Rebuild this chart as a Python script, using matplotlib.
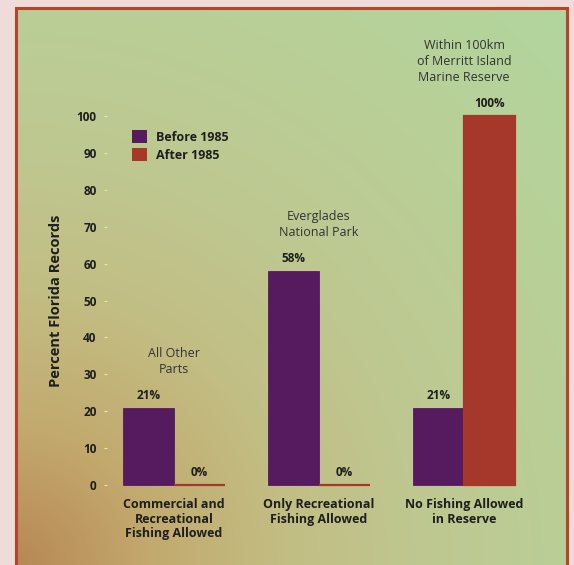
import matplotlib.pyplot as plt
import numpy as np
from matplotlib.patches import Patch, Rectangle

plt.rcParams['font.family'] = ['Open Sans', 'DejaVu Sans']

# data
groups = ['Commercial and\nRecreational\nFishing Allowed',
          'Only Recreational\nFishing Allowed',
          'No Fishing Allowed\nin Reserve']
regions = ['All Other\nParts', 'Everglades\nNational Park',
           'Within 100km\nof Merritt Island\nMarine Reserve']
before_1985 = [21, 58, 21]
after_1985 = [0, 0, 100]
yticks = list(range(0, 101, 10))

purple = '#561a5f'
red = '#a5372b'
ink = '#1e1e1e'

W, H = 574, 565
fig = plt.figure(figsize=(W / 100, H / 100), dpi=100, facecolor='#efdcd8')

# gradient panel behind the chart (orange in the lower left, green to the upper right)
bx0, bx1, by0 = 16, 567, 8
bg = fig.add_axes([bx0 / W, 0, (bx1 - bx0) / W, (H - by0) / H])
n = 240
u = np.linspace(0, 1, n)[None, :]
v = np.linspace(1, 0, n)[:, None]
d = np.sqrt(u ** 2 + v ** 2)
stops = [0.0, 0.25, 0.5, 0.75, 1.0, 1.42]
r_c = [184, 195, 194, 190, 186, 178]
g_c = [136, 170, 190, 200, 206, 214]
b_c = [84, 110, 132, 145, 150, 158]
img = np.dstack([np.interp(d, stops, c) for c in (r_c, g_c, b_c)]) / 255
bg.imshow(img, aspect='auto', extent=[0, 1, 0, 1], interpolation='bilinear')
bg.set_axis_off()
fig.patches.append(Rectangle((bx0 / W, -0.01), (bx1 - bx0) / W, (H - by0) / H + 0.01,
                             transform=fig.transFigure, fill=False,
                             edgecolor='#b4452c', linewidth=2.2, zorder=5))

# main axes
x_left, x_right = 107, 560
y_zero, y_top = 485, 116
ax = fig.add_axes([x_left / W, (H - y_zero) / H, (x_right - x_left) / W, (y_zero - y_top) / H])
ax.set_facecolor('none')

x = np.arange(len(groups))
bw = 51 / 145
ax.set_xlim((x_left - 174) / 145, (x_right - 174) / 145)
ax.set_ylim(0, 100)

b1 = ax.bar(x - bw / 2, before_1985, bw, color=purple, edgecolor=purple,
            linewidth=0.6, clip_on=False)
b2 = ax.bar(x + bw / 2, after_1985, bw, color=red, edgecolor=red,
            linewidth=1.6, clip_on=False)

lab_font = dict(fontsize=8.5, fontweight='bold', color=ink)
ax.bar_label(b1, labels=[f'{v}%' for v in before_1985], padding=4, **lab_font)
ax.bar_label(b2, labels=[f'{v}%' for v in after_1985], padding=4, **lab_font)

for i, name in enumerate(regions):
    top = max(before_1985[i], after_1985[i])
    ax.annotate(name, (x[i], top), xytext=(0, 23), textcoords='offset points',
                ha='center', va='bottom', fontsize=9, color='#333333',
                linespacing=1.3)

ax.set_yticks(yticks)
ax.set_yticklabels([str(t) for t in yticks], fontsize=8.5, fontweight='bold', color=ink)
ax.tick_params(axis='y', length=2.5, width=0.8, color='#e4e4d4', pad=5)
ax.set_xticks(x)
ax.set_xticklabels(groups, fontsize=9, fontweight='bold', color=ink,
                   linespacing=1.15)
ax.tick_params(axis='x', length=0, pad=9.5)
for sp in ax.spines.values():
    sp.set_visible(False)

ax.set_ylabel('Percent Florida Records', fontsize=10.5, fontweight='bold',
              color=ink, labelpad=10)

handles = [Patch(facecolor=purple, label='Before 1985'),
           Patch(facecolor=red, label='After 1985')]
leg = ax.legend(handles=handles, loc='upper left', bbox_to_anchor=(0.055, 0.962),
                frameon=False, borderpad=0, borderaxespad=0, handlelength=1.2,
                handleheight=1.2, handletextpad=0.75, labelspacing=0.35,
                prop={'weight': 'bold', 'size': 9})
for t in leg.get_texts():
    t.set_color(ink)

fig.savefig('out.png', dpi=100, facecolor=fig.get_facecolor())
